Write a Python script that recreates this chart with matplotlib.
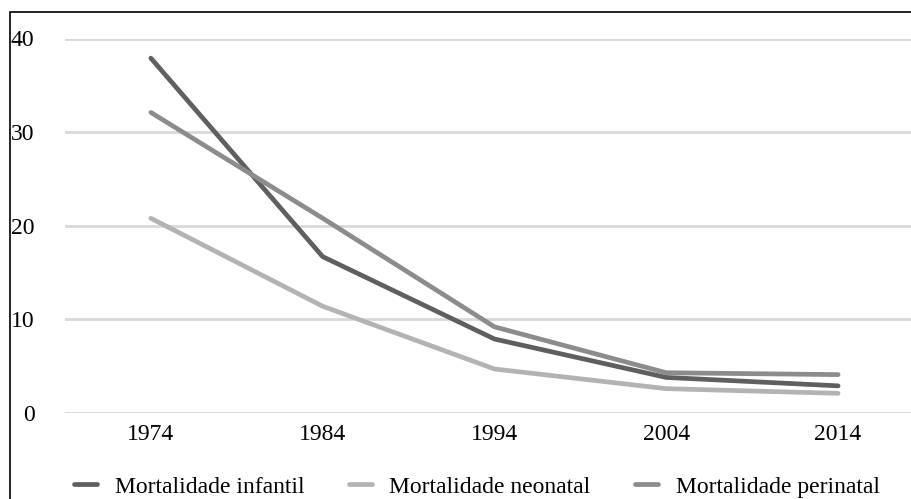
import matplotlib.pyplot as plt
from matplotlib.patches import Rectangle

anos = ['1974', '1984', '1994', '2004', '2014']
infantil = [37.9, 16.7, 7.9, 3.8, 2.9]
neonatal = [20.8, 11.4, 4.7, 2.6, 2.1]
perinatal = [32.1, 20.8, 9.2, 4.3, 4.1]

plt.rcParams['font.family'] = 'Liberation Serif'

fig = plt.figure(figsize=(9.12, 4.99), dpi=100)
ax = fig.add_axes([65/912, 1-413/499, (924-65)/912, (413-38.5)/499])

x = range(len(anos))
ax.plot(x, infantil, color='#5f5f5f', lw=3.4, label='Mortalidade infantil', solid_capstyle='round', zorder=3)
ax.plot(x, neonatal, color='#b3b3b3', lw=3.4, label='Mortalidade neonatal', solid_capstyle='round', zorder=3)
ax.plot(x, perinatal, color='#8c8c8c', lw=3.4, label='Mortalidade perinatal', solid_capstyle='round', zorder=3)

ax.set_xlim(-0.5, 4.5)
ax.set_ylim(0, 40)
ax.set_yticks([0, 10, 20, 30, 40])
ax.set_xticks(list(x))
ax.set_xticklabels(anos)
ax.yaxis.grid(True, color='#d9d9d9', lw=2)
ax.set_axisbelow(True)
for s in ax.spines.values():
    s.set_visible(False)
ax.tick_params(axis='both', length=0, labelsize=17, colors='black')
ax.tick_params(axis='y', pad=22)
ax.tick_params(axis='x', pad=8)

fig.legend(loc='center', bbox_to_anchor=(477/912, 1-487/499), ncol=3, frameon=False,
           fontsize=17, handlelength=0.95, handletextpad=0.75, columnspacing=1.9)

# frame around the chart area (cut off on the right and bottom)
fig.patches.append(Rectangle((10/912, -0.2), 1.2, 1.2 - 12/499, transform=fig.transFigure,
                             fill=False, edgecolor='black', lw=1.2))

fig.savefig('out.png', dpi=100)
